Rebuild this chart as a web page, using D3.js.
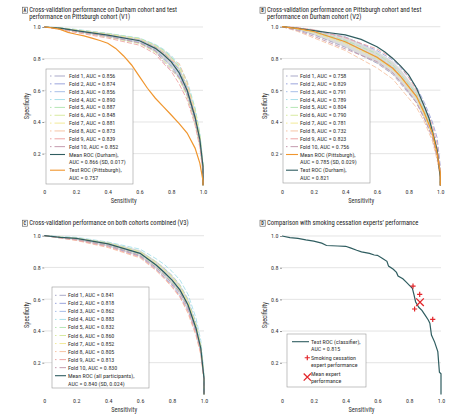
<!DOCTYPE html>
<html><head><meta charset="utf-8">
<script src="https://cdn.jsdelivr.net/npm/d3@7"></script>
<style>body{margin:0;background:#fff}</style></head>
<body><svg id="c" width="467" height="420"></svg>
<script>
const FONT = "'Liberation Sans Narrow','Roboto Condensed','Liberation Sans',Arial,sans-serif";
const xTicks = [0, 0.2, 0.4, 0.6, 0.8, 1.0];
const xTickLabels = ["0", "0.2", "0.4", "0.6", "0.8", "1.0"];
const yTicks = [0.2, 0.4, 0.6, 0.8, 1.0];
const yTickLabels = ["0.2", "0.4", "0.6", "0.8", "1.0"];
const foldColors = ["#a9a9c9", "#9aa4dc", "#a8bfe8", "#a8e0ea", "#b4e6b4", "#d8eaa0", "#f2ea98", "#f6c4a4", "#eea4a4", "#c49aae"];
const TEAL = "#2f5d60", ORANGE = "#f0962e", RED = "#e3262b";

// shared sensitivity grid for folds, means and bands
const grid = [0, 0.1, 0.2, 0.4, 0.6, 0.7, 0.75, 0.8, 0.85, 0.9, 0.95, 0.98, 1.0, 1.0];

// ---- Panel A (V1) ----
const aucA = ["0.856", "0.874", "0.856", "0.890", "0.887", "0.848", "0.881", "0.873", "0.839", "0.852"];
const foldsA = [
  [1.0, 0.99, 0.975, 0.94, 0.90, 0.85, 0.80, 0.75, 0.68, 0.57, 0.40, 0.26, 0.10, 0],
  [1.0, 0.995, 0.98, 0.955, 0.92, 0.875, 0.84, 0.79, 0.73, 0.62, 0.45, 0.30, 0.12, 0],
  [1.0, 0.99, 0.97, 0.945, 0.905, 0.855, 0.81, 0.76, 0.69, 0.58, 0.41, 0.27, 0.10, 0],
  [1.0, 0.996, 0.985, 0.96, 0.93, 0.89, 0.86, 0.82, 0.76, 0.66, 0.49, 0.33, 0.14, 0],
  [1.0, 0.995, 0.983, 0.958, 0.928, 0.885, 0.855, 0.81, 0.75, 0.65, 0.48, 0.32, 0.13, 0],
  [1.0, 0.99, 0.97, 0.935, 0.895, 0.84, 0.79, 0.74, 0.67, 0.56, 0.39, 0.25, 0.09, 0],
  [1.0, 0.994, 0.98, 0.955, 0.925, 0.88, 0.845, 0.80, 0.74, 0.63, 0.47, 0.31, 0.13, 0],
  [1.0, 0.992, 0.978, 0.95, 0.915, 0.87, 0.835, 0.79, 0.77, 0.65, 0.44, 0.28, 0.11, 0],
  [1.0, 0.985, 0.965, 0.93, 0.885, 0.83, 0.77, 0.72, 0.64, 0.54, 0.38, 0.24, 0.08, 0],
  [1.0, 0.99, 0.972, 0.94, 0.90, 0.85, 0.78, 0.73, 0.68, 0.58, 0.41, 0.27, 0.10, 0]
];
const meanA = [1.0, 0.993, 0.977, 0.949, 0.913, 0.865, 0.826, 0.78, 0.71, 0.60, 0.43, 0.29, 0.12, 0];
const bandLoA = [1.0, 0.988, 0.968, 0.935, 0.895, 0.84, 0.795, 0.745, 0.675, 0.565, 0.395, 0.255, 0.09, 0];
const bandHiA = [1.0, 0.997, 0.985, 0.962, 0.93, 0.89, 0.857, 0.815, 0.745, 0.635, 0.465, 0.325, 0.15, 0];
const testSensA = [0, 0.05, 0.1, 0.15, 0.2, 0.25, 0.3, 0.35, 0.4, 0.45, 0.5, 0.55, 0.6, 0.65, 0.7, 0.75, 0.8, 0.85, 0.9, 0.95, 0.98, 1.0, 1.0];
const testSpecA = [1.0, 0.995, 0.985, 0.966, 0.954, 0.944, 0.93, 0.915, 0.897, 0.865, 0.817, 0.76, 0.686, 0.613, 0.55, 0.497, 0.444, 0.39, 0.33, 0.235, 0.14, 0.03, 0];

// ---- Panel B (V2) ----
const aucB = ["0.758", "0.829", "0.791", "0.789", "0.804", "0.790", "0.781", "0.732", "0.823", "0.756"];
const foldsB = [
  [1.0, 0.98, 0.95, 0.87, 0.77, 0.70, 0.64, 0.58, 0.52, 0.42, 0.31, 0.18, 0.06, 0],
  [1.0, 0.99, 0.975, 0.935, 0.85, 0.79, 0.74, 0.68, 0.62, 0.52, 0.40, 0.30, 0.12, 0],
  [1.0, 0.985, 0.965, 0.90, 0.81, 0.745, 0.69, 0.63, 0.565, 0.46, 0.33, 0.21, 0.08, 0],
  [1.0, 0.99, 0.97, 0.91, 0.80, 0.73, 0.68, 0.62, 0.56, 0.46, 0.34, 0.20, 0.07, 0],
  [1.0, 0.99, 0.972, 0.915, 0.83, 0.76, 0.70, 0.64, 0.58, 0.47, 0.36, 0.22, 0.09, 0],
  [1.0, 0.985, 0.968, 0.90, 0.81, 0.74, 0.69, 0.625, 0.56, 0.44, 0.33, 0.21, 0.08, 0],
  [1.0, 0.987, 0.96, 0.895, 0.80, 0.73, 0.675, 0.61, 0.55, 0.44, 0.32, 0.19, 0.07, 0],
  [1.0, 0.97, 0.93, 0.85, 0.74, 0.67, 0.61, 0.55, 0.49, 0.40, 0.28, 0.16, 0.05, 0],
  [1.0, 0.995, 0.98, 0.93, 0.86, 0.80, 0.75, 0.68, 0.60, 0.50, 0.38, 0.26, 0.10, 0],
  [1.0, 0.975, 0.94, 0.86, 0.78, 0.71, 0.65, 0.59, 0.52, 0.42, 0.30, 0.18, 0.06, 0]
];
const meanB = [1.0, 0.988, 0.97, 0.905, 0.807, 0.738, 0.685, 0.622, 0.56, 0.455, 0.33, 0.20, 0.08, 0];
const bandLoB = [1.0, 0.978, 0.948, 0.87, 0.77, 0.70, 0.645, 0.58, 0.52, 0.415, 0.30, 0.17, 0.06, 0];
const bandHiB = [1.0, 0.995, 0.985, 0.94, 0.845, 0.78, 0.73, 0.665, 0.60, 0.495, 0.365, 0.235, 0.10, 0];
const testSensB = [0, 0.1, 0.2, 0.3, 0.4, 0.5, 0.6, 0.65, 0.7, 0.75, 0.8, 0.85, 0.9, 0.93, 0.95, 0.98, 1.0, 1.0];
const testSpecB = [1.0, 0.99, 0.975, 0.962, 0.948, 0.92, 0.874, 0.84, 0.80, 0.752, 0.696, 0.612, 0.496, 0.42, 0.34, 0.223, 0.05, 0];

// ---- Panel C (V3) ----
const aucC = ["0.841", "0.818", "0.862", "0.883", "0.832", "0.860", "0.852", "0.805", "0.813", "0.830"];
const foldsC = [
  [1.0, 0.99, 0.98, 0.945, 0.885, 0.815, 0.77, 0.72, 0.66, 0.56, 0.42, 0.29, 0.10, 0],
  [1.0, 0.985, 0.975, 0.935, 0.87, 0.79, 0.74, 0.69, 0.62, 0.53, 0.39, 0.27, 0.09, 0],
  [1.0, 0.993, 0.985, 0.955, 0.90, 0.835, 0.795, 0.75, 0.69, 0.60, 0.45, 0.31, 0.12, 0],
  [1.0, 0.995, 0.99, 0.96, 0.915, 0.855, 0.82, 0.775, 0.72, 0.63, 0.48, 0.34, 0.13, 0],
  [1.0, 0.99, 0.978, 0.94, 0.88, 0.81, 0.76, 0.71, 0.645, 0.55, 0.41, 0.28, 0.10, 0],
  [1.0, 0.992, 0.985, 0.955, 0.90, 0.835, 0.79, 0.745, 0.685, 0.59, 0.44, 0.31, 0.11, 0],
  [1.0, 0.99, 0.982, 0.95, 0.895, 0.825, 0.785, 0.735, 0.675, 0.58, 0.43, 0.30, 0.11, 0],
  [1.0, 0.985, 0.97, 0.925, 0.86, 0.78, 0.73, 0.675, 0.61, 0.51, 0.37, 0.25, 0.08, 0],
  [1.0, 0.987, 0.972, 0.93, 0.865, 0.785, 0.735, 0.68, 0.615, 0.52, 0.38, 0.26, 0.09, 0],
  [1.0, 0.99, 0.976, 0.94, 0.875, 0.80, 0.755, 0.70, 0.64, 0.545, 0.40, 0.28, 0.10, 0]
];
const meanC = [1.0, 0.99, 0.983, 0.948, 0.889, 0.815, 0.77, 0.72, 0.657, 0.563, 0.417, 0.29, 0.10, 0];
const bandLoC = [1.0, 0.985, 0.972, 0.932, 0.868, 0.79, 0.74, 0.69, 0.625, 0.53, 0.385, 0.26, 0.08, 0];
const bandHiC = [1.0, 0.995, 0.99, 0.96, 0.908, 0.84, 0.80, 0.75, 0.69, 0.60, 0.45, 0.32, 0.12, 0];

// ---- Panel D ----
const testSensD = [0, 0.05, 0.1, 0.15, 0.2, 0.25, 0.28, 0.35, 0.4, 0.43, 0.47, 0.5, 0.55, 0.58, 0.6, 0.63, 0.66, 0.67, 0.7, 0.72, 0.73, 0.76, 0.78, 0.8, 0.82, 0.83, 0.84, 0.86, 0.88, 0.9, 0.92, 0.93, 0.94, 0.96, 0.97, 0.98, 0.99, 1.0, 1.0];
const testSpecD = [1.0, 0.99, 0.985, 0.975, 0.968, 0.955, 0.94, 0.937, 0.935, 0.925, 0.91, 0.90, 0.89, 0.88, 0.878, 0.86, 0.84, 0.81, 0.79, 0.77, 0.747, 0.73, 0.71, 0.69, 0.67, 0.63, 0.585, 0.55, 0.53, 0.50, 0.47, 0.45, 0.375, 0.33, 0.30, 0.27, 0.14, 0.13, 0];
const expertSens = [0.824, 0.866, 0.834, 0.948];
const expertSpec = [0.684, 0.632, 0.539, 0.474];
const meanExpertSens = [0.868];
const meanExpertSpec = [0.582];

const svg = d3.select("#c").style("font-family", FONT);
svg.append("rect").attr("width", 467).attr("height", 420).attr("fill", "#fff");

const zip = (xs, ys) => xs.map((x, i) => [x, ys[i]]);

function drawPlus(g, cx, cy, r) {
  g.append("path").attr("d", `M${cx - r},${cy}H${cx + r}M${cx},${cy - r}V${cy + r}`)
    .attr("stroke", RED).attr("stroke-width", 1.2).attr("fill", "none");
}
function drawCross(g, cx, cy, r) {
  g.append("path").attr("d", `M${cx - r},${cy - r}L${cx + r},${cy + r}M${cx - r},${cy + r}L${cx + r},${cy - r}`)
    .attr("stroke", RED).attr("stroke-width", 1.3).attr("fill", "none");
}

function panel(cfg) {
  const g = svg.append("g");
  const x = d3.scaleLinear().domain([0, 1]).range([cfg.x0, cfg.x1]);
  const y = d3.scaleLinear().domain([0, 1]).range([cfg.y1, cfg.y0]);
  const line = d3.line().x(d => x(d[0])).y(d => y(d[1]));

  // title
  g.append("rect").attr("x", cfg.x0 - 22).attr("y", cfg.titleY - 5.2).attr("width", 5.2).attr("height", 6)
    .attr("fill", "#fff").attr("stroke", "#555").attr("stroke-width", 0.6);
  g.append("text").attr("x", cfg.x0 - 19.4).attr("y", cfg.titleY - 0.4).attr("text-anchor", "middle")
    .attr("font-size", 4.6).attr("font-weight", "bold").attr("fill", "#333").text(cfg.letter);
  cfg.title.forEach((t, i) => g.append("text").attr("x", cfg.x0 - 15).attr("y", cfg.titleY + i * 6.6)
    .attr("font-size", 6.6).attr("fill", "#222").text(t));

  // y axis ticks and gridlines
  const ya = g.append("g").attr("transform", `translate(${cfg.x0},0)`)
    .call(d3.axisLeft(y).tickValues(yTicks).tickFormat((d, i) => yTickLabels[i]).tickSize(2).tickPadding(1.5));
  ya.select(".domain").remove();
  ya.selectAll("line").attr("stroke", "#444").attr("stroke-width", 0.6);
  ya.selectAll("text").attr("font-size", 6).attr("fill", "#333").attr("font-family", FONT);
  g.append("g").selectAll("line").data(yTicks).join("line")
    .attr("x1", x(0)).attr("x2", x(1)).attr("y1", d => y(d)).attr("y2", d => y(d))
    .attr("stroke", "#d9d9d9").attr("stroke-width", 0.7);
  const xa = g.append("g").attr("transform", `translate(0,${cfg.y1})`)
    .call(d3.axisBottom(x).tickValues(xTicks).tickFormat((d, i) => xTickLabels[i]).tickSize(0).tickPadding(4));
  xa.select(".domain").remove();
  xa.selectAll("text").attr("font-size", 6).attr("fill", "#333").attr("font-family", FONT);
  g.append("text").attr("x", (cfg.x0 + cfg.x1) / 2).attr("y", cfg.y1 + 18).attr("text-anchor", "middle")
    .attr("font-size", 6.4).attr("fill", "#333").text("Sensitivity");
  g.append("text").attr("transform", `translate(${cfg.x0 - 15},${(cfg.y0 + cfg.y1) / 2}) rotate(-90)`)
    .attr("text-anchor", "middle").attr("font-size", 6.4).attr("fill", "#333").text("Specificity");

  // SD band
  if (cfg.bandLo) {
    const area = d3.area().x((d, i) => x(grid[i])).y0(d => y(d[0])).y1(d => y(d[1]));
    g.append("path").datum(cfg.bandLo.map((v, i) => [v, cfg.bandHi[i]]))
      .attr("d", area).attr("fill", "#bdbdbd").attr("opacity", 0.55);
  }
  // folds
  if (cfg.folds) {
    cfg.folds.forEach((f, i) => {
      g.append("path").datum(zip(grid, f)).attr("d", line).attr("fill", "none")
        .attr("stroke", foldColors[i]).attr("stroke-width", 1).attr("stroke-dasharray", "5,2").attr("opacity", 0.9);
    });
  }
  (cfg.curves || []).forEach(c => {
    g.append("path").datum(zip(c.xs, c.ys)).attr("d", line).attr("fill", "none")
      .attr("stroke", c.color).attr("stroke-width", c.w || 1.1);
  });

  // legend
  const L = cfg.legend;
  g.append("rect").attr("x", L.x).attr("y", L.y).attr("width", L.w).attr("height", L.h)
    .attr("fill", "#fff").attr("stroke", "#999").attr("stroke-width", 0.6);
  let row = 0;
  L.items.forEach((it) => {
    const cy = L.row0 + row * L.step;
    if (it.type === "fold") {
      g.append("line").attr("x1", L.lx0).attr("x2", L.lx1).attr("y1", cy).attr("y2", cy)
        .attr("stroke", it.color).attr("stroke-width", 1).attr("stroke-dasharray", "1.5,3,20");
    } else if (it.type === "line") {
      g.append("line").attr("x1", L.lx0).attr("x2", L.lx1).attr("y1", cy).attr("y2", cy)
        .attr("stroke", it.color).attr("stroke-width", 1.1);
    } else if (it.type === "plus") {
      drawPlus(g, L.mx, cy, 2.6);
    } else if (it.type === "cross") {
      drawCross(g, L.mx, cy + 3.2, 3.6);
    }
    it.text.forEach((t, j) => g.append("text").attr("x", L.tx).attr("y", cy + 2 + j * L.step)
      .attr("font-size", 6).attr("fill", "#333").text(t));
    row += it.text.length + (L.gap || 0);
  });

  if (cfg.after) cfg.after(g, x, y);
}

const foldItems = aucs => aucs.map((a, i) => ({ type: "fold", color: foldColors[i], text: [`Fold ${i + 1}, AUC = ${a}`] }));

panel({
  letter: "A", x0: 44.3, x1: 203, y0: 27, y1: 185.3, titleY: 12.4,
  title: ["Cross-validation performance on Durham cohort and test", "performance on Pittsburgh cohort (V1)"],
  folds: foldsA, bandLo: bandLoA, bandHi: bandHiA,
  curves: [{ xs: grid, ys: meanA, color: TEAL, w: 1.2 }, { xs: testSensA, ys: testSpecA, color: ORANGE, w: 1.2 }],
  legend: { x: 46, y: 69, w: 87, h: 115, row0: 76, step: 7.85, lx0: 50, lx1: 65, tx: 69,
    items: foldItems(aucA).concat([
      { type: "line", color: TEAL, text: ["Mean ROC (Durham),", "AUC = 0.866 (SD, 0.017)"] },
      { type: "line", color: ORANGE, text: ["Test ROC (Pittsburgh),", "AUC = 0.757"] }
    ]) }
});

panel({
  letter: "B", x0: 282, x1: 440.3, y0: 26.7, y1: 185.4, titleY: 12.4,
  title: ["Cross-validation performance on Pittsburgh cohort and test", "performance on Durham cohort (V2)"],
  folds: foldsB, bandLo: bandLoB, bandHi: bandHiB,
  curves: [{ xs: testSensB, ys: testSpecB, color: TEAL, w: 1.2 }, { xs: grid, ys: meanB, color: ORANGE, w: 1.2 }],
  legend: { x: 283, y: 69, w: 87, h: 114, row0: 76, step: 7.85, lx0: 286, lx1: 298, tx: 300,
    items: foldItems(aucB).concat([
      { type: "line", color: ORANGE, text: ["Mean ROC (Pittsburgh),", "AUC = 0.785 (SD, 0.029)"] },
      { type: "line", color: TEAL, text: ["Test ROC (Durham),", "AUC = 0.821"] }
    ]) }
});

panel({
  letter: "C", x0: 44.3, x1: 204, y0: 235.7, y1: 394.4, titleY: 225.4,
  title: ["Cross-validation performance on both cohorts combined (V3)"],
  folds: foldsC, bandLo: bandLoC, bandHi: bandHiC,
  curves: [{ xs: grid, ys: meanC, color: TEAL, w: 1.2 }],
  legend: { x: 52, y: 287, w: 97, h: 101, row0: 295.3, step: 8.04, lx0: 55, lx1: 66, tx: 68,
    items: foldItems(aucC).concat([
      { type: "line", color: TEAL, text: ["Mean ROC (all participants),", "AUC = 0.840 (SD, 0.024)"] }
    ]) }
});

panel({
  letter: "D", x0: 282, x1: 441, y0: 236, y1: 394.4, titleY: 225.4,
  title: ["Comparison with smoking cessation experts’ performance"],
  curves: [{ xs: testSensD, ys: testSpecD, color: TEAL, w: 1.2 }],
  legend: { x: 287, y: 334, w: 79, h: 53, row0: 341.7, step: 7.3, gap: 0.2, lx0: 292, lx1: 309, tx: 311, mx: 307.3,
    items: [
      { type: "line", color: TEAL, text: ["Test ROC (classifier),", "AUC = 0.815"] },
      { type: "plus", text: ["Smoking cessation", "expert performance"] },
      { type: "cross", text: ["Mean expert", "performance"] }
    ] },
  after: (g, x, y) => {
    expertSens.forEach((s, i) => drawPlus(g, x(s), y(expertSpec[i]), 2.6));
    meanExpertSens.forEach((s, i) => drawCross(g, x(s), y(meanExpertSpec[i]), 3.8));
  }
});
</script></body></html>
